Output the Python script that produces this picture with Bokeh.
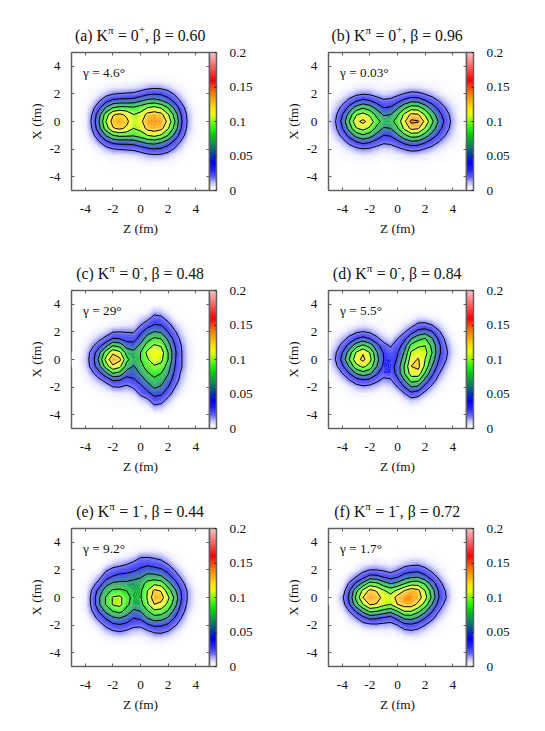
import numpy as np
from bokeh.plotting import figure
from bokeh.layouts import column, row
from bokeh.models import (LinearAxis, FixedTicker, ColorBar, LinearColorMapper, Label, Range1d)
from bokeh.embed import file_html
from bokeh.resources import INLINE

# Density, in 0.001 fm^-3, on a 0.5 fm lattice
z_fm = [-5,-4.5,-4,-3.5,-3,-2.5,-2,-1.5,-1,-.5,0,.5,1,1.5,2,2.5,3,3.5,4,4.5,5]
x_fm = [4,3.5,3,2.5,2,1.5,1,.5,0,-.5,-1,-1.5,-2,-2.5,-3,-3.5,-4]

density_a = [
[0]*21,
[0]*21,
[0,0,0,0,0,0,1,1,1,1,2,3,3,3,2,1,0,0,0,0,0],
[0,0,0,0,1,3,5,5,6,7,9,13,15,14,10,5,2,0,0,0,0],
[0,0,0,2,6,13,19,21,22,23,29,36,39,37,29,17,7,1,0,0,0],
[0,0,1,6,18,34,45,48,48,50,58,66,68,62,50,33,15,4,0,0,0],
[0,0,2,13,36,62,80,86,85,83,90,100,106,98,80,54,27,8,1,0,0],
[0,0,3,21,54,90,118,124,116,100,106,126,130,126,102,72,36,12,2,0,0],
[0,0,3,24,60,100,128,132,125,106,114,135,138,135,115,80,40,13,2,0,0],
[0,0,3,21,54,90,118,124,116,100,106,126,130,126,102,72,36,12,2,0,0],
[0,0,2,13,36,62,80,86,85,83,90,100,106,98,80,54,27,8,1,0,0],
[0,0,1,6,18,34,45,48,48,50,58,66,68,62,50,33,15,4,0,0,0],
[0,0,0,2,6,13,19,21,22,23,29,36,39,37,29,17,7,1,0,0,0],
[0,0,0,0,1,3,5,5,6,7,9,13,15,14,10,5,2,0,0,0,0],
[0,0,0,0,0,0,1,1,1,1,2,3,3,3,2,1,0,0,0,0,0],
[0]*21,
[0]*21,
]
density_b = [
[0]*21,
[0]*21,
[0,0,0,0,1,1,1,1,0,0,1,1,1,1,1,1,0,0,0,0,0],
[0,0,1,2,4,5,5,3,2,3,4,6,8,7,5,3,2,1,0,0,0],
[0,1,4,9,15,19,17,12,9,10,15,21,25,24,19,13,7,3,1,0,0],
[1,5,12,25,38,46,41,31,23,25,34,46,55,53,42,30,19,10,4,1,0],
[2,10,25,47,68,78,70,54,40,42,57,76,90,88,72,52,34,19,8,2,0],
[4,16,39,68,98,107,96,74,58,60,78,104,125,122,98,72,48,28,12,2,0],
[5,19,46,80,115,125,112,88,72,74,88,116,145,142,115,85,57,33,14,3,0],
[4,16,39,68,98,107,96,74,58,60,78,104,125,122,98,72,48,28,12,2,0],
[2,10,25,47,68,78,70,54,40,42,57,76,90,88,72,52,34,19,8,2,0],
[1,5,12,25,38,46,41,31,23,25,34,46,55,53,42,30,19,10,4,1,0],
[0,1,4,9,15,19,17,12,9,10,15,21,25,24,19,13,7,3,1,0,0],
[0,0,1,2,4,5,5,3,2,3,4,6,8,7,5,3,2,1,0,0,0],
[0,0,0,0,1,1,1,1,0,0,1,1,1,1,1,1,0,0,0,0,0],
[0]*21,
[0]*21,
]
density_c = [
[0,0,0,0,0,0,0,0,0,0,0,0,1,1,0,0,0,0,0,0,0],
[0,0,0,0,0,0,0,0,0,0,1,3,12,10,4,1,0,0,0,0,0],
[0,0,0,0,0,0,1,1,1,2,8,14,27,24,13,4,1,0,0,0,0],
[0,0,0,0,1,2,4,5,6,7,19,32,41,40,26,12,4,1,0,0,0],
[0,0,0,2,5,10,19,20,19,18,36,52,61,58,40,22,8,2,0,0,0],
[0,0,2,7,15,26,42,40,32,33,48,72,84,80,56,32,13,4,0,0,0],
[0,0,5,16,34,55,80,74,52,48,66,90,103,98,70,40,18,5,1,0,0],
[0,1,8,27,55,90,115,105,73,66,80,105,115,110,80,44,20,6,1,0,0],
[0,1,10,30,65,106,138,125,85,70,80,98,110,105,80,42,20,6,1,0,0],
[0,1,8,27,55,90,115,105,72,58,72,90,98,95,70,40,20,5,1,0,0],
[0,0,5,16,34,55,80,74,50,50,62,78,86,80,62,35,15,4,0,0,0],
[0,0,2,7,15,26,42,40,30,36,50,64,76,70,50,30,11,3,0,0,0],
[0,0,0,2,5,10,19,20,16,22,33,50,63,57,40,20,7,1,0,0,0],
[0,0,0,0,1,2,4,5,5,8,23,33,45,43,27,11,3,0,0,0,0],
[0,0,0,0,0,0,1,1,1,2,7,14,30,26,13,4,0,0,0,0,0],
[0,0,0,0,0,0,0,0,0,0,1,3,13,11,4,0,0,0,0,0,0],
[0,0,0,0,0,0,0,0,0,0,0,0,1,1,0,0,0,0,0,0,0],
]
density_d = [
[0]*21,
[0,0,0,0,0,0,0,0,0,0,0,0,0,1,0,0,0,0,0,0,0],
[0,0,0,0,0,1,0,0,0,0,0,1,3,8,8,5,2,0,0,0,0],
[0,0,0,2,4,6,5,2,1,0,1,6,14,25,26,20,10,3,0,0,0],
[0,1,4,10,17,21,17,10,4,1,7,18,33,47,52,42,23,8,2,0,0],
[1,5,13,26,40,48,40,25,12,7,20,35,60,75,82,63,37,15,3,0,0],
[2,10,26,48,72,85,72,48,27,18,30,50,87,97,100,75,45,21,7,1,0],
[4,17,40,70,102,118,100,62,38,26,38,62,103,110,108,80,45,24,8,1,0],
[5,20,46,80,112,125,107,68,40,30,42,72,112,122,100,72,40,21,6,1,0],
[3,14,36,62,92,105,92,60,36,32,48,82,120,126,95,60,31,14,3,0,0],
[1,7,20,40,62,72,65,43,27,28,47,80,110,112,78,46,21,8,1,0,0],
[0,2,8,19,31,38,34,24,16,18,35,60,88,85,55,30,12,3,0,0,0],
[0,0,2,6,12,16,14,10,6,8,20,40,60,55,32,15,5,1,0,0,0],
[0,0,0,1,3,4,3,2,1,2,6,18,32,27,13,5,1,0,0,0,0],
[0,0,0,0,0,1,0,0,0,0,1,5,11,8,3,1,0,0,0,0,0],
[0,0,0,0,0,0,0,0,0,0,0,1,2,1,0,0,0,0,0,0,0],
[0]*21,
]
density_e = [
[0]*21,
[0,0,0,0,0,0,0,0,0,1,2,3,3,2,0,0,0,0,0,0,0],
[0,0,0,0,0,0,1,3,4,8,17,17,15,12,6,2,0,0,0,0,0],
[0,0,0,0,0,3,9,12,17,23,30,33,30,26,17,7,2,0,0,0,0],
[0,0,0,0,3,17,25,29,31,36,44,50,47,43,33,18,7,1,0,0,0],
[0,0,0,4,14,32,42,48,50,55,58,68,68,63,48,32,15,4,0,0,0],
[0,0,2,12,28,53,64,66,65,66,70,88,96,92,68,48,26,9,1,0,0],
[0,0,3,22,48,72,83,84,80,72,76,100,124,118,90,64,36,14,3,0,0],
[0,0,4,26,58,82,102,105,88,73,78,102,133,128,104,75,38,15,3,0,0],
[0,0,5,25,58,82,102,106,85,70,72,97,120,115,95,68,34,13,3,0,0],
[0,0,3,20,42,65,80,86,72,56,60,78,95,92,78,52,27,9,1,0,0],
[0,0,1,10,26,42,56,60,52,40,44,60,70,68,57,38,18,5,0,0,0],
[0,0,0,3,11,24,35,38,34,25,24,36,44,43,36,22,10,2,0,0,0],
[0,0,0,0,3,10,16,19,15,10,9,15,22,23,18,9,3,0,0,0,0],
[0,0,0,0,0,2,4,5,4,2,2,4,7,7,5,2,0,0,0,0,0],
[0,0,0,0,0,0,0,0,0,0,0,0,1,1,0,0,0,0,0,0,0],
[0]*21,
]
density_f = [
[0]*21,
[0]*21,
[0,0,0,0,0,0,1,1,0,0,1,2,3,3,2,1,0,0,0,0,0],
[0,0,0,0,1,3,5,6,5,4,6,10,13,14,10,5,2,0,0,0,0],
[0,0,0,1,6,14,20,20,17,12,19,28,32,33,25,15,7,2,0,0,0],
[0,0,1,9,20,33,48,46,38,32,38,50,56,58,46,30,16,5,0,0,0],
[0,0,4,22,45,67,90,85,70,60,66,80,92,92,78,52,28,11,2,0,0],
[0,1,9,38,74,105,125,118,102,92,104,120,132,125,100,70,38,18,4,0,0],
[0,2,16,44,85,120,138,130,112,108,128,138,138,130,108,76,40,21,5,0,0],
[0,1,11,38,72,100,122,118,106,100,120,130,130,115,92,60,32,14,3,0,0],
[0,0,5,20,42,65,84,80,72,66,80,100,100,85,64,42,20,8,1,0,0],
[0,0,1,8,18,33,44,42,36,31,46,64,66,56,40,24,11,3,0,0,0],
[0,0,0,2,5,12,15,16,14,13,20,33,36,30,20,10,3,1,0,0,0],
[0,0,0,0,0,2,3,3,3,3,6,12,15,12,7,3,1,0,0,0,0],
[0,0,0,0,0,0,0,0,0,0,1,2,3,3,1,0,0,0,0,0,0],
[0]*21,
[0]*21,
]

panel_letters = ["a", "b", "c", "d", "e", "f"]
parity = ["0", "0", "0", "0", "1", "1"]
signs = ["+", "+", "-", "-", "-", "-"]
betas = ["0.60", "0.96", "0.48", "0.84", "0.44", "0.72"]
gammas = ["4.6°", "0.03°", "29°", "5.5°", "9.2°", "1.7°"]
densities = [density_a, density_b, density_c, density_d, density_e, density_f]

contour_levels = [0.02, 0.04, 0.06, 0.08, 0.10, 0.12, 0.14]
cb_ticks = [0, 0.05, 0.1, 0.15, 0.2]
cb_labels = ["0", "0.05", "0.1", "0.15", "0.2"]
axis_ticks = [-4, -2, 0, 2, 4]

# colour scale stops
stops_v = [0, .005, .01, .02, .03, .04, .05, .06, .07, .08, .09, .10, .11, .12, .13, .14, .15, .16, .18, .20]
stops_c = [(255,255,255),(238,238,255),(200,200,255),(90,90,255),(30,30,255),(0,0,240),(0,50,190),(0,110,110),(0,160,70),(0,205,0),
           (30,250,0),(130,255,0),(230,255,0),(255,225,0),(255,175,0),(255,130,0),(255,70,0),(255,0,0),(255,100,100),(255,195,195)]
def colour_at(v):
    return "#%02x%02x%02x" % tuple(int(round(np.interp(v, stops_v, [c[i] for c in stops_c]))) for i in range(3))

FONT = "Liberation Serif"
GRAY = "#606060"
LAB = "13.3px"
fill_levels = list(np.arange(0, 0.20001, 0.00125))
fill_cols = [colour_at((fill_levels[i] + fill_levels[i+1]) / 2) for i in range(len(fill_levels) - 1)]
cb_palette = [colour_at(v) for v in np.linspace(0, 0.2, 256)]
LETTER = {"a": .444, "b": .5, "c": .444, "d": .5, "e": .444, "f": .333}
HEAD_H, TOP_GAP = 44, 8

def make(i, bottom):
    p = figure(frame_width=138, frame_height=138, x_range=Range1d(-5, 5), y_range=Range1d(-5, 5),
               toolbar_location=None, output_backend="svg", frame_align=False,
               min_border_left=71, min_border_right=48, min_border_top=TOP_GAP, min_border_bottom=bottom)
    p.grid.visible = False
    p.outline_line_color = GRAY
    p.outline_line_width = 1.5
    z = np.array(densities[i], dtype=float)[::-1] / 1000.0
    cf = p.contour(z_fm, x_fm[::-1], z, levels=fill_levels, fill_color=fill_cols)
    g = cf.fill_renderer.glyph
    g.line_color = g.fill_color
    g.line_width = 0.5
    p.contour(z_fm, x_fm[::-1], z, levels=contour_levels, line_color="black", line_width=1)
    for ax, lab in ((p.xaxis[0], "Z (fm)"), (p.yaxis[0], "X (fm)")):
        ax.axis_label = lab
        ax.axis_label_text_font = FONT
        ax.axis_label_text_font_size = LAB
        ax.axis_label_text_font_style = "normal"
        ax.axis_label_text_color = "#111111"
        ax.major_label_text_font = FONT
        ax.major_label_text_font_size = LAB
        ax.major_label_text_color = "#111111"
        ax.major_label_overrides = {t: str(t) for t in axis_ticks}
        ax.ticker = FixedTicker(ticks=axis_ticks)
        ax.major_tick_in = 3
        ax.major_tick_out = 0
        ax.major_tick_line_color = GRAY
        ax.minor_tick_line_color = None
        ax.axis_line_color = None
    p.xaxis[0].major_label_standoff = 14
    p.yaxis[0].major_label_standoff = 11
    p.xaxis[0].axis_label_standoff = 5
    p.yaxis[0].axis_label_standoff = 2
    p.yaxis[0].major_label_orientation = "horizontal"
    for side in ("above", "right"):
        a = LinearAxis(ticker=FixedTicker(ticks=axis_ticks), major_tick_in=3, major_tick_out=0,
                       major_tick_line_color=GRAY, minor_tick_line_color=None, axis_line_color=None,
                       major_label_overrides={t: "" for t in axis_ticks},
                       major_label_text_font_size="1px", major_label_standoff=0)
        p.add_layout(a, side)
    mapper = LinearColorMapper(palette=cb_palette, low=0, high=0.2)
    cb = ColorBar(color_mapper=mapper, ticker=FixedTicker(ticks=cb_ticks),
                  major_label_overrides={t: s for t, s in zip(cb_ticks, cb_labels)},
                  width=7, height=138, margin=6, padding=0, label_standoff=13,
                  bar_line_color=GRAY, bar_line_width=1.5, major_tick_line_color="#222222",
                  major_tick_in=2, minor_tick_line_color=None,
                  major_label_text_font=FONT, major_label_text_font_size=LAB, major_label_text_color="#111111")
    p.add_layout(cb, "right")
    p.add_layout(Label(x=11.5, y=118, x_units="screen", y_units="screen", text="γ = " + gammas[i], text_font=FONT,
                       text_font_size="13.3px", text_baseline="alphabetic", text_color="#111111"))
    return p

def head(i):
    h = figure(width=257, height=HEAD_H, x_range=Range1d(0, 257), y_range=Range1d(0, HEAD_H),
               x_axis_type=None, y_axis_type=None, toolbar_location=None, output_backend="svg",
               min_border=0, outline_line_color=None, frame_align=False)
    h.grid.visible = False
    F, S = 15.8, 11.0
    head_text = "(%s) K" % panel_letters[i]
    w_head = (.333 + LETTER[panel_letters[i]] + .333 + .25 + .722) * F
    w_pi = .55 * S
    w_eq = (.25 + .564 + .25 + .5) * F
    w_sign = (.564 if signs[i] == "+" else .333) * S
    tail = ", β = " + betas[i]
    w_tail = (.25 + .25 + .55 + .25 + .564 + .25 + 1.75) * F
    x0 = 140 - (w_head + w_pi + w_eq + w_sign + w_tail) / 2
    base = 9
    pieces = [(head_text, x0, base, F), ("π", x0 + w_head, base + 6, S),
              ("= " + parity[i], x0 + w_head + w_pi + .25 * F, base, F),
              (signs[i], x0 + w_head + w_pi + w_eq, base + 6, S),
              (tail, x0 + w_head + w_pi + w_eq + w_sign, base, F)]
    for t, x, y, fs in pieces:
        h.add_layout(Label(x=x, y=y, x_units="screen", y_units="screen", text=t, text_font=FONT,
                           text_font_size="%.1fpx" % fs, text_baseline="alphabetic", text_color="#111111"))
    return h

bottoms = [45, 45, 44, 44, 45, 45]
cells = [column(head(i), make(i, bottoms[i])) for i in range(6)]
page = column(row(cells[0], cells[1]), row(cells[2], cells[3]), row(cells[4], cells[5]))
open("out.html", "w").write(file_html(page, INLINE))
